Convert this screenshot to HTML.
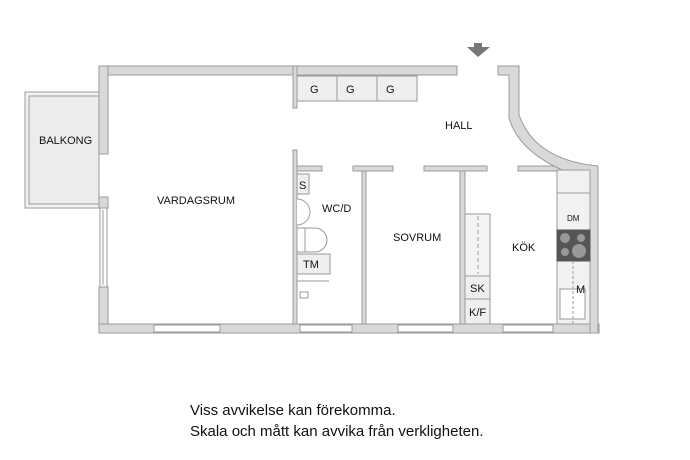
<!DOCTYPE html>
<html><head><meta charset="utf-8"><style>
html,body{margin:0;padding:0;background:#fff;width:690px;height:460px;overflow:hidden}
svg{display:block}
text{font-family:"Liberation Sans",sans-serif;fill:#111}
</style></head><body>
<svg width="690" height="460" viewBox="0 0 690 460" xmlns="http://www.w3.org/2000/svg">
<g stroke="#9a9a9a" stroke-width="1">
<rect x="25" y="92" width="74" height="116" fill="#f2f2f2"/>
<rect x="29" y="96" width="70" height="108" fill="#ececec"/>
<g fill="#d9d9d9">
<rect x="99" y="66" width="358" height="9"/>
<rect x="99" y="66" width="9" height="88"/>
<rect x="99" y="197" width="9" height="11"/>
<rect x="99" y="287" width="9" height="46"/>
<rect x="99" y="324" width="500" height="9"/>
<rect x="293" y="66" width="4" height="42"/>
<rect x="293" y="150" width="4" height="174"/>
<rect x="297" y="166" width="25" height="5"/>
<rect x="353" y="166" width="40" height="5"/>
<rect x="362" y="171" width="4" height="153"/>
<rect x="424" y="166" width="63" height="5"/>
<rect x="460" y="171" width="5" height="153"/>
<rect x="518" y="166" width="45" height="5"/>
<path d="M498 66 H519 V115 Q535 160 598 166 V333 H590 V193 H573 V170 H562 Q518 150 509 118 V75 H498 Z"/>
</g>
<rect x="100" y="208" width="7" height="79" fill="#fff"/>
<line x1="103" y1="210" x2="103" y2="285"/>
<g fill="#fff">
<rect x="154" y="325" width="66" height="7"/>
<rect x="300" y="325" width="52" height="7"/>
<rect x="398" y="325" width="55" height="7"/>
<rect x="503" y="325" width="50" height="7"/>
</g>
<g fill="#efefef">
<rect x="297" y="76" width="40" height="25"/>
<rect x="337" y="76" width="40" height="25"/>
<rect x="377" y="76" width="40" height="25"/>
</g>
<rect x="297" y="174" width="12" height="20" fill="#efefef"/>
<path d="M297 199 A13 13 0 0 1 297 225" fill="#fff"/>
<path d="M297 228 H315 A12 12 0 0 1 315 252 H297 Z" fill="#fff"/>
<line x1="305" y1="228" x2="305" y2="252"/>
<rect x="297" y="254" width="33" height="20" fill="#efefef"/>
<line x1="297" y1="281" x2="329" y2="281"/>
<rect x="300" y="292" width="8" height="6" fill="#fff"/>
<rect x="465" y="214" width="25" height="62" fill="#f4f4f4"/>
<line x1="478" y1="216" x2="478" y2="274" stroke-dasharray="4 3"/>
<rect x="465" y="276" width="25" height="23" fill="#efefef"/>
<rect x="465" y="299" width="25" height="25" fill="#efefef"/>
<rect x="557" y="170" width="33" height="154" fill="#f2f2f2"/>
<rect x="557" y="193" width="33" height="37" fill="#f2f2f2"/>
<rect x="557" y="230" width="33" height="31" fill="#555" stroke="#555"/>
<rect x="560" y="289" width="25" height="30" fill="#fff"/>
<line x1="573" y1="261" x2="573" y2="324" stroke-dasharray="3 2"/>
</g>
<g fill="#999">
<circle cx="565" cy="238" r="5"/><circle cx="581" cy="238" r="4"/>
<circle cx="565" cy="252" r="4"/><circle cx="579" cy="251" r="7"/>
<path d="M474 43 H482 V47 H490 L478 57 L467 47 H474 Z" fill="#777"/>
</g>
<g font-size="11">
<text x="39" y="144">BALKONG</text>
<text x="157" y="204">VARDAGSRUM</text>
<text x="310" y="93">G</text><text x="346" y="93">G</text><text x="386" y="93">G</text>
<text x="445" y="129">HALL</text>
<text x="299" y="189">S</text>
<text x="322" y="212">WC/D</text>
<text x="303" y="268">TM</text>
<text x="393" y="241">SOVRUM</text>
<text x="512" y="251">KÖK</text>
<text x="470" y="292">SK</text>
<text x="469" y="316">K/F</text>
<text x="576" y="293">M</text>
<text x="567" y="221" font-size="8">DM</text>
</g>
<g font-size="15">
<text x="190" y="415">Viss avvikelse kan förekomma.</text>
<text x="190" y="436">Skala och mått kan avvika från verkligheten.</text>
</g>
</svg>
</body></html>
